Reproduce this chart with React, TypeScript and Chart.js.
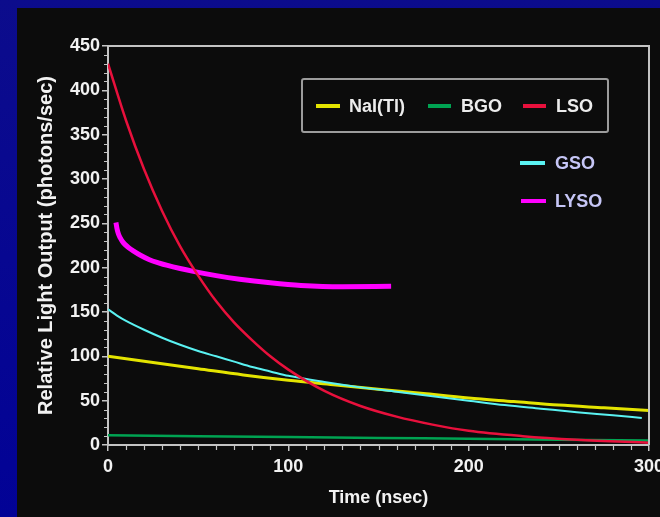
import React, { useEffect, useRef } from "react";
import { Chart, registerables } from "chart.js";

Chart.register(...registerables);

// ---- data ----
const NAI_T = [0, 25, 50, 75, 100, 125, 150, 175, 200, 225, 250, 275, 300];
const NAI_V = [100, 93, 86, 79, 73, 68, 63, 58, 53, 49, 45, 42, 39];

const BGO_T = [0, 50, 100, 150, 200, 250, 300];
const BGO_V = [11, 10, 9, 8, 7, 6, 5];

const LSO_T = [0, 10, 20, 30, 40, 50, 60, 70, 80, 90, 100, 120, 140, 160, 180, 200, 230, 260, 300];
const LSO_V = [430, 366, 311, 264, 224, 191, 162, 138, 118, 100, 85, 61, 44, 32, 23, 16, 10, 6, 2.5];

const GSO_T = [0, 5, 10, 20, 30, 40, 50, 60, 70, 80, 90, 100, 120, 140, 160, 180, 200, 220, 240, 260, 280, 296];
const GSO_V = [153, 146, 140, 130, 121, 113, 106, 100, 94, 88, 83, 78, 71, 65, 60, 55, 50, 45, 41, 37, 33.5, 30.5];

const LYSO_T = [4.4, 5.0, 5.8, 6.8, 8.0, 9.5, 11.5, 14, 18, 23, 28, 33, 40, 48, 60, 73, 90, 107, 130, 157];
const LYSO_V = [251, 244, 238, 233.5, 229.5, 226, 222.5, 219, 214, 209, 205.5, 202.5, 199, 195.5, 191, 187, 183, 180, 178.5, 179];

const X_RANGE = [0, 300];
const Y_RANGE = [0, 450];
const X_MAJOR = 100;
const Y_MAJOR = 50;
const MINOR = 10;

const X_TITLE = "Time (nsec)";
const Y_TITLE = "Relative Light Output (photons/sec)";

// ---- styles ----
const FONT = '"Liberation Sans", Arial, Helvetica, sans-serif';
const AXIS_COLOR = "#c4c4c4";
const TEXT_COLOR = "#f2f2f2";
const C_NAI = "#e4e400";
const C_BGO = "#00a352";
const C_LSO = "#e8103c";
const C_GSO = "#5af2f2";
const C_LYSO = "#ff00ff";

function pts(t: number[], v: number[]) {
  return t.map((x, i) => ({ x, y: v[i] }));
}

const framePlugin = {
  id: "frameAndMinorTicks",
  afterDraw(chart: any) {
    const { ctx, chartArea: a, scales } = chart;
    const xs = scales.x;
    const ys = scales.y;
    ctx.save();
    ctx.strokeStyle = AXIS_COLOR;
    ctx.lineWidth = 2;
    ctx.beginPath();
    ctx.moveTo(a.left, a.top);
    ctx.lineTo(a.right, a.top);
    ctx.lineTo(a.right, a.bottom);
    ctx.stroke();
    ctx.lineWidth = 1.2;
    ctx.beginPath();
    for (let v = X_RANGE[0]; v <= X_RANGE[1]; v += MINOR) {
      if (v % X_MAJOR === 0) continue;
      const px = Math.round(xs.getPixelForValue(v)) + 0.5;
      ctx.moveTo(px, a.bottom);
      ctx.lineTo(px, a.bottom + 5);
    }
    for (let v = Y_RANGE[0]; v <= Y_RANGE[1]; v += MINOR) {
      if (v % Y_MAJOR === 0) continue;
      const py = Math.round(ys.getPixelForValue(v)) + 0.5;
      ctx.moveTo(a.left - 4, py);
      ctx.lineTo(a.left, py);
    }
    ctx.stroke();
    ctx.restore();
  },
};

export default function App() {
  const ref = useRef<HTMLCanvasElement | null>(null);

  useEffect(() => {
    if (!ref.current) return;
    const line = (label: string, t: number[], v: number[], color: string, w: number, order: number) => ({
      label,
      data: pts(t, v),
      borderColor: color,
      backgroundColor: color,
      borderWidth: w,
      pointRadius: 0,
      fill: false,
      cubicInterpolationMode: "monotone" as const,
      order,
    });
    const chart = new Chart(ref.current, {
      type: "line",
      data: {
        datasets: [
          line("LSO", LSO_T, LSO_V, C_LSO, 2.5, 0),
          line("GSO", GSO_T, GSO_V, C_GSO, 2, 1),
          line("LYSO", LYSO_T, LYSO_V, C_LYSO, 5, 2),
          line("BGO", BGO_T, BGO_V, C_BGO, 2.5, 3),
          line("NaI(Tl)", NAI_T, NAI_V, C_NAI, 3, 4),
        ],
      },
      options: {
        responsive: false,
        animation: false,
        devicePixelRatio: 1,
        layout: { padding: { top: 46, right: 51, bottom: 0, left: 0 } },
        plugins: { legend: { display: false }, tooltip: { enabled: false } },
        scales: {
          x: {
            type: "linear",
            min: X_RANGE[0],
            max: X_RANGE[1],
            afterFit: (s: any) => {
              s.height = 72;
            },
            ticks: {
              stepSize: X_MAJOR,
              color: TEXT_COLOR,
              padding: 5,
              maxRotation: 0,
              font: { family: FONT, size: 18, weight: "bold" },
            },
            grid: { drawOnChartArea: false, drawTicks: true, tickLength: 6, color: AXIS_COLOR, lineWidth: 1.5 },
            border: { display: true, color: AXIS_COLOR, width: 2 },
            title: {
              display: true,
              text: X_TITLE,
              color: TEXT_COLOR,
              font: { family: FONT, size: 18, weight: "bold" },
              padding: { top: 0, bottom: 8 },
            },
          },
          y: {
            type: "linear",
            min: Y_RANGE[0],
            max: Y_RANGE[1],
            afterFit: (s: any) => {
              s.width = 108;
            },
            ticks: {
              stepSize: Y_MAJOR,
              color: TEXT_COLOR,
              padding: 2,
              font: { family: FONT, size: 18, weight: "bold" },
            },
            grid: { drawOnChartArea: false, drawTicks: true, tickLength: 6, color: AXIS_COLOR, lineWidth: 1.5 },
            border: { display: true, color: AXIS_COLOR, width: 2 },
            title: {
              display: true,
              text: Y_TITLE,
              color: TEXT_COLOR,
              font: { family: FONT, size: 20, weight: "bold" },
              padding: { top: 34, bottom: 0 },
            },
          },
        },
      },
      plugins: [framePlugin],
    });
    return () => chart.destroy();
  }, []);

  const txt = (color: string): React.CSSProperties => ({
    position: "absolute",
    fontFamily: FONT,
    fontWeight: "bold",
    fontSize: 18,
    lineHeight: "20px",
    color,
    whiteSpace: "nowrap",
  });
  const swatch = (left: number, cy: number, w: number, color: string): React.CSSProperties => ({
    position: "absolute",
    left,
    top: cy - 2,
    width: w,
    height: 4,
    background: color,
  });

  const legendText = "#ececec";
  const legendText2 = "#c6c6f6";

  return (
    <div
      style={{
        position: "fixed",
        left: 0,
        top: 0,
        width: 660,
        height: 517,
        overflow: "hidden",
        background: "linear-gradient(#0c0c8c, #020296)",
      }}
    >
      <div style={{ position: "absolute", left: 17, top: 8, right: 0, bottom: 0, background: "#0c0c0c" }} />
      <canvas ref={ref} width={700} height={517} style={{ position: "absolute", left: 0, top: 0 }} />
      <div
        style={{
          position: "absolute",
          left: 301,
          top: 78,
          width: 308,
          height: 55,
          boxSizing: "border-box",
          border: "2px solid #9c9c9c",
          borderRadius: 3,
        }}
      />
      <div style={swatch(316, 106, 24, C_NAI)} />
      <div style={{ ...txt(legendText), left: 349, top: 96 }}>NaI(Tl)</div>
      <div style={swatch(428, 106, 23, C_BGO)} />
      <div style={{ ...txt(legendText), left: 461, top: 96 }}>BGO</div>
      <div style={swatch(523, 106, 23, C_LSO)} />
      <div style={{ ...txt(legendText), left: 556, top: 96 }}>LSO</div>
      <div style={swatch(520, 163, 25, C_GSO)} />
      <div style={{ ...txt(legendText2), left: 555, top: 153 }}>GSO</div>
      <div style={swatch(521, 201, 25, C_LYSO)} />
      <div style={{ ...txt(legendText2), left: 555, top: 191 }}>LYSO</div>
    </div>
  );
}
